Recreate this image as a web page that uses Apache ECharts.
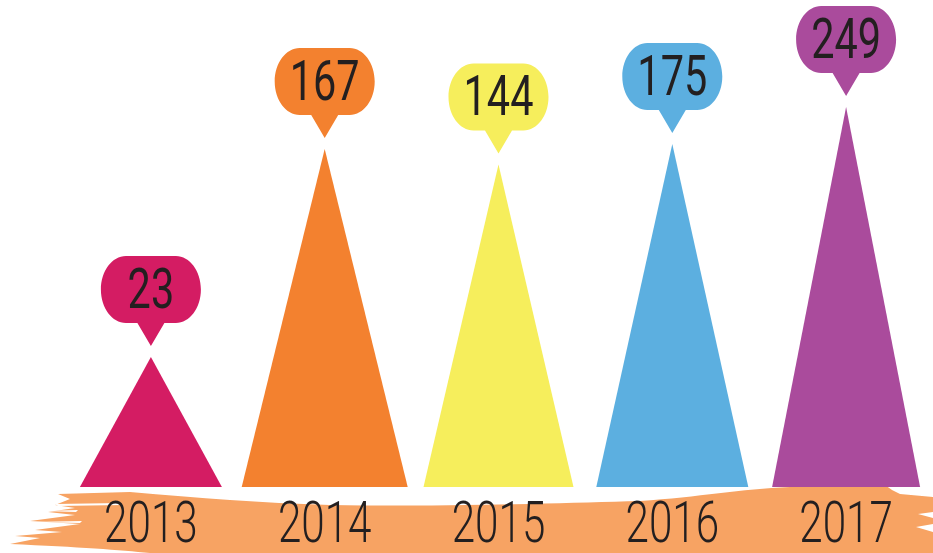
<!DOCTYPE html>
<html>
<head>
<meta charset="utf-8">
<script src="https://cdn.jsdelivr.net/npm/echarts@6/dist/echarts.min.js"></script>
<style>
  html, body { margin: 0; padding: 0; background: #ffffff; }
  #main { width: 933px; height: 553px; }
</style>
</head>
<body>
<div id="main"></div>
<script>
// data
const years = ["2013", "2014", "2015", "2016", "2017"];
const counts = [23, 167, 144, 175, 249];

// styles per year
const peakColors = ["#d41c63", "#f3812f", "#f6ee5c", "#5cafe0", "#aa4b9c"];
const peakHalfWidths = [71, 83, 75, 76, 74];
const brushColor = "#f7a363";
const inkColor = "#231f20";
const numFont = "Roboto, 'DejaVu Sans', sans-serif";

// speech bubble, drawn in a 100 x 90 box (tip at the bottom)
const bubblePath =
    "M25,0 L75,0 C88.8,0 100,15 100,33.5 C100,52 88.8,67 75,67 " +
    "L63.5,67 L50,90 L36.5,67 L25,67 C11.2,67 0,52 0,33.5 C0,15 11.2,0 25,0 Z";

// ragged paint stroke behind the year labels (page pixels)
const brushPath =
    "M58,494 L130,492 C200,498 260,503 330,505 C450,507 560,503 640,501 " +
    "C700,497 740,489 790,487 L885,485 L892,490 L900,494 L933,497 L933,512 " +
    "L918,514 L933,518 L933,524 L916,527 L933,532 L933,553 L150,553 " +
    "C120,550 80,547 10,544 L40,538 L15,536 L62,532 L35,530 L80,524 L30,521 " +
    "L75,515 L48,512 L75,508 L55,505 L70,499 Z";
const brushGaps =
    "M55,504 L120,503 L122,505 L58,506 Z M42,511 L78,510 L76,512 Z M30,522 L82,521 L80,523 Z";

const chart = echarts.init(document.getElementById("main"), null, { renderer: "canvas" });

const peakData = counts.map((v, i) => [i, v]);

// narrow digits: squeeze a regular font sideways
function squeezedText(text, x, y, size, weight) {
    return {
        type: "text",
        x: x,
        y: y,
        scaleX: 0.74,
        style: {
            text: text,
            x: 0,
            y: 0,
            align: "center",
            verticalAlign: "middle",
            fontSize: size,
            fontWeight: weight,
            fontFamily: numFont,
            fill: inkColor,
        },
    };
}

const option = {
    backgroundColor: "#ffffff",
    animation: false,
    grid: { left: 64, right: 0, top: 0, bottom: 66 },
    xAxis: {
        type: "category",
        data: years,
        axisLine: { show: false },
        axisTick: { show: false },
        axisLabel: { show: false },
        splitLine: { show: false },
    },
    yAxis: {
        type: "log",
        logBase: 10,
        min: 6.67,
        max: 690,
        show: false,
        splitLine: { show: false },
    },
    series: [
        {
            // paint stroke under the years
            type: "custom",
            z: 0,
            silent: true,
            clip: false,
            data: [[0, 0]],
            renderItem() {
                return {
                    type: "group",
                    children: [
                        {
                            type: "path",
                            shape: { pathData: brushPath },
                            style: { fill: brushColor },
                        },
                        {
                            type: "path",
                            shape: { pathData: brushGaps },
                            style: { fill: "#ffffff" },
                        },
                    ],
                };
            },
        },
        {
            type: "custom",
            z: 2,
            clip: false,
            data: peakData,
            renderItem(params, api) {
                const i = params.dataIndex;
                const top = api.coord([api.value(0), api.value(1)]);
                const base = params.coordSys.y + params.coordSys.height;
                const half = peakHalfWidths[i];
                const color = peakColors[i];
                const bubbleTop = top[1] - 101;
                return {
                    type: "group",
                    children: [
                        {
                            type: "polygon",
                            shape: {
                                points: [
                                    [top[0] - half, base],
                                    [top[0], top[1]],
                                    [top[0] + half, base],
                                ],
                            },
                            style: { fill: color },
                        },
                        {
                            type: "path",
                            shape: {
                                pathData: bubblePath,
                                layout: "cover",
                                x: top[0] - 50,
                                y: bubbleTop,
                                width: 100,
                                height: 90,
                            },
                            style: { fill: color },
                        },
                        squeezedText(String(api.value(1)), top[0], bubbleTop + 38, 56, 400),
                        squeezedText(years[i], top[0], base + 41, 57, 300),
                    ],
                };
            },
        },
    ],
};

chart.setOption(option);
</script>
</body>
</html>
